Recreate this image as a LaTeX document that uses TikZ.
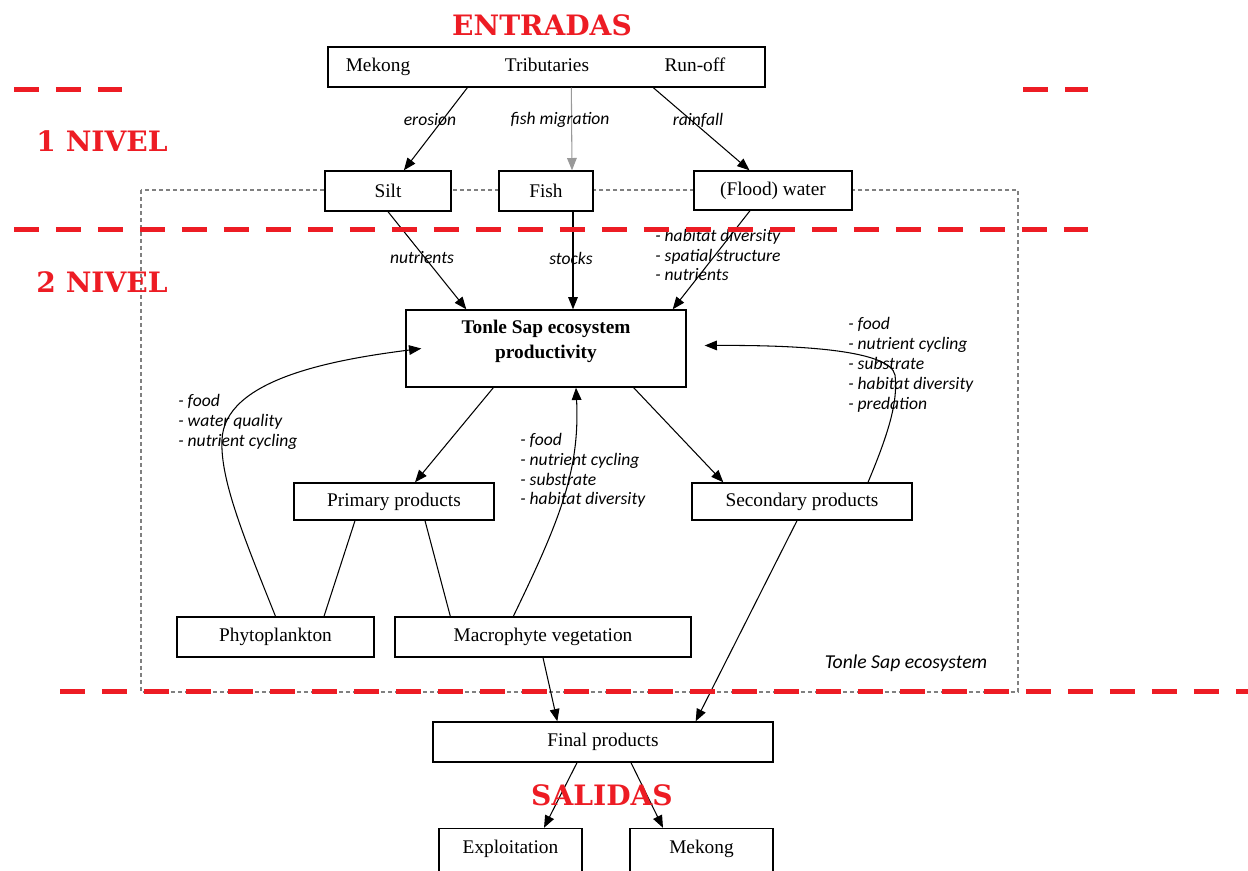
\documentclass[tikz,border=0pt]{standalone}
\usepackage{fontspec}
\setmainfont{Liberation Serif}
\newfontfamily\lblfont{Carlito}
\newfontfamily\titfont{DejaVu Serif}
\usetikzlibrary{calc,shapes,positioning,arrows.meta}
\definecolor{nivred}{RGB}{237,28,36}

\begin{document}
\begin{tikzpicture}[x=0.02cm,y=-0.02cm]

    \useasboundingbox (0,0) rectangle (1248,870);
    \clip (0,0) rectangle (1248,870);

    \tikzstyle{bnode} = [draw, fill=white, line width=0.8pt, inner sep=0pt, font=\fontsize{11}{13}\selectfont]
    \tikzstyle{tnode} = [inner sep=0pt, anchor=base, font=\fontsize{11}{13}\selectfont]
    \tikzstyle{lbl} = [inner sep=0pt, align=left, font=\lblfont\itshape\fontsize{10}{11.3}\selectfont]
    \tikzstyle{tit} = [inner sep=0pt, text=nivred, font=\titfont\bfseries\fontsize{16}{18}\selectfont]
    \tikzstyle{flow} = [line width=0.6pt, -{Triangle[length=7pt,width=5.5pt]}]
    \tikzstyle{reddash} = [nivred, line width=0.1cm, dash pattern=on 0.5cm off 0.34cm]
    \tikzstyle{ecobox} = [gray, line width=0.7pt, dash pattern=on 0.08cm off 0.06cm]

    % ecosystem frame
    \draw[ecobox] (141,190) rectangle (1018,692);
    \node[lbl, font=\lblfont\itshape\fontsize{11.2}{13}\selectfont] (eco) at (906,663) {Tonle Sap ecosystem};

    % inputs
    \node[bnode, minimum width=8.74cm, minimum height=0.8cm] (top) at (546.5,67) {};
    \node[tnode] (mek) at (378,71) {Mekong};
    \node[tnode] (trib) at (547,71) {Tributaries};
    \node[tnode] (run) at (695,71) {Run-off};

    \node[bnode, minimum width=2.52cm, minimum height=0.8cm] (silt) at (388,191) {Silt};
    \node[bnode, minimum width=1.88cm, minimum height=0.8cm] (fish) at (546,191) {Fish};
    \node[bnode, minimum width=3.16cm, minimum height=0.78cm] (flood) at (773,190.5) {(Flood) water};

    % ecosystem
    \node[bnode, minimum width=5.6cm, minimum height=1.54cm] (tonle) at (546,348.5) {};
    \node[inner sep=0pt, align=center, font=\bfseries\fontsize{11}{14}\selectfont] (tonletxt) at (546,341.5) {Tonle Sap ecosystem\\productivity};

    \node[bnode, minimum width=4cm, minimum height=0.74cm] (prim) at (394,501.5) {Primary products};
    \node[bnode, minimum width=4.4cm, minimum height=0.74cm] (sec) at (802,501.5) {Secondary products};
    \node[bnode, minimum width=3.94cm, minimum height=0.8cm] (phyto) at (275.5,637) {Phytoplankton};
    \node[bnode, minimum width=5.92cm, minimum height=0.8cm] (macro) at (543,637) {Macrophyte vegetation};

    % outputs
    \node[bnode, minimum width=6.8cm, minimum height=0.8cm] (final) at (603,742) {Final products};
    \node[bnode, minimum width=2.86cm, minimum height=0.9cm] (expl) at (510.5,851) {};
    \node[bnode, minimum width=2.86cm, minimum height=0.9cm] (mek2) at (701.5,851) {};
    \node[tnode] (expltxt) at (510.5,853) {Exploitation};
    \node[tnode] (mek2txt) at (701.5,853) {Mekong};

    % level 1 flows
    \draw[flow] ($(top.south west)+(140,0)$) -- (silt);
    \draw[flow, gray!80] ($(top.south west)+(244,0)$) -- ($(fish.north)+(26,0)$);
    \draw[flow] ($(top.south west)+(326,0)$) -- (flood);
    \node[lbl] (l1) at (430,120) {erosion};
    \node[lbl] (l2) at (560,120) {fish migration};
    \node[lbl] (l3) at (698,120) {rainfall};

    % level 2 flows
    \draw[flow] (silt.south) -- ($(tonle.north west)+(61,0)$);
    \draw[flow] ($(fish.south)+(27,0)$) -- ($(tonle.north)+(27,0)$);
    \draw[flow] ($(flood.south)+(-23,0)$) -- ($(tonle.north east)+(-14,0)$);
    \node[lbl] (l4) at (422,258) {nutrients};
    \node[lbl] (l5) at (571,258) {stocks};
    \node[lbl, anchor=west] (l6) at (655,255) {- habitat diversity\\- spatial structure\\- nutrients};

    \draw[flow] ($(tonle.south west)+(88,0)$) -- ($(prim.north)+(21,0)$);
    \draw[flow] ($(tonle.south east)+(-53,0)$) -- ($(sec.north west)+(32,0)$);
    \draw[line width=0.6pt] ($(prim.south)+(-39,0)$) -- ($(phyto.north)+(48.5,0)$);
    \draw[line width=0.6pt] ($(prim.south)+(31,0)$) -- ($(macro.north west)+(56,0)$);

    % feedbacks
    \draw[flow] (phyto.north) .. controls (245,540) and (220,480) .. (222,440)
       .. controls (224,380) and (330,360) .. ($(tonle.west)+(16,0)$);
    \draw[flow] ($(macro.north west)+(119,0)$) .. controls (560,520) and (580,470) .. ($(tonle.south)+(30,0)$);
    \draw[flow] ($(sec.north)+(66,0)$) .. controls (890,430) and (898,400) .. (895,375)
       .. controls (890,350) and (800,345) .. ($(tonle.east)+(18,-3)$);
    \node[lbl, anchor=west] (l7) at (178,422) {- food\\- water quality\\- nutrient cycling};
    \node[lbl, anchor=west] (l8) at (520,470.5) {- food\\- nutrient cycling\\- substrate\\- habitat diversity};
    \node[lbl, anchor=west] (l9) at (848,365) {- food\\- nutrient cycling\\- substrate\\- habitat diversity\\- predation};

    % to outputs
    \draw[flow] (macro.south) -- ($(final.north west)+(125,0)$);
    \draw[flow] ($(sec.south)+(-5,0)$) -- ($(final.north east)+(-78,0)$);
    \draw[flow] ($(final.south)+(-26,0)$) -- ($(expl.north)+(33.5,0)$);
    \draw[flow] ($(final.south)+(28,0)$) -- ($(mek2.north)+(-38.5,0)$);

    % levels
    \draw[reddash] (14,89) -- (122,89);
    \draw[reddash] (1023,89) -- (1088,89);
    \draw[reddash] (14,229) -- (1088,229);
    \draw[reddash] (60,691) -- (1248,691);

    \node[tit] (entr) at (542,25) {ENTRADAS};
    \node[tit] (niv1) at (102,141) {1 NIVEL};
    \node[tit] (niv2) at (102,282) {2 NIVEL};
    \node[tit] (sal) at (602,795) {SALIDAS};

\end{tikzpicture}
\end{document}
